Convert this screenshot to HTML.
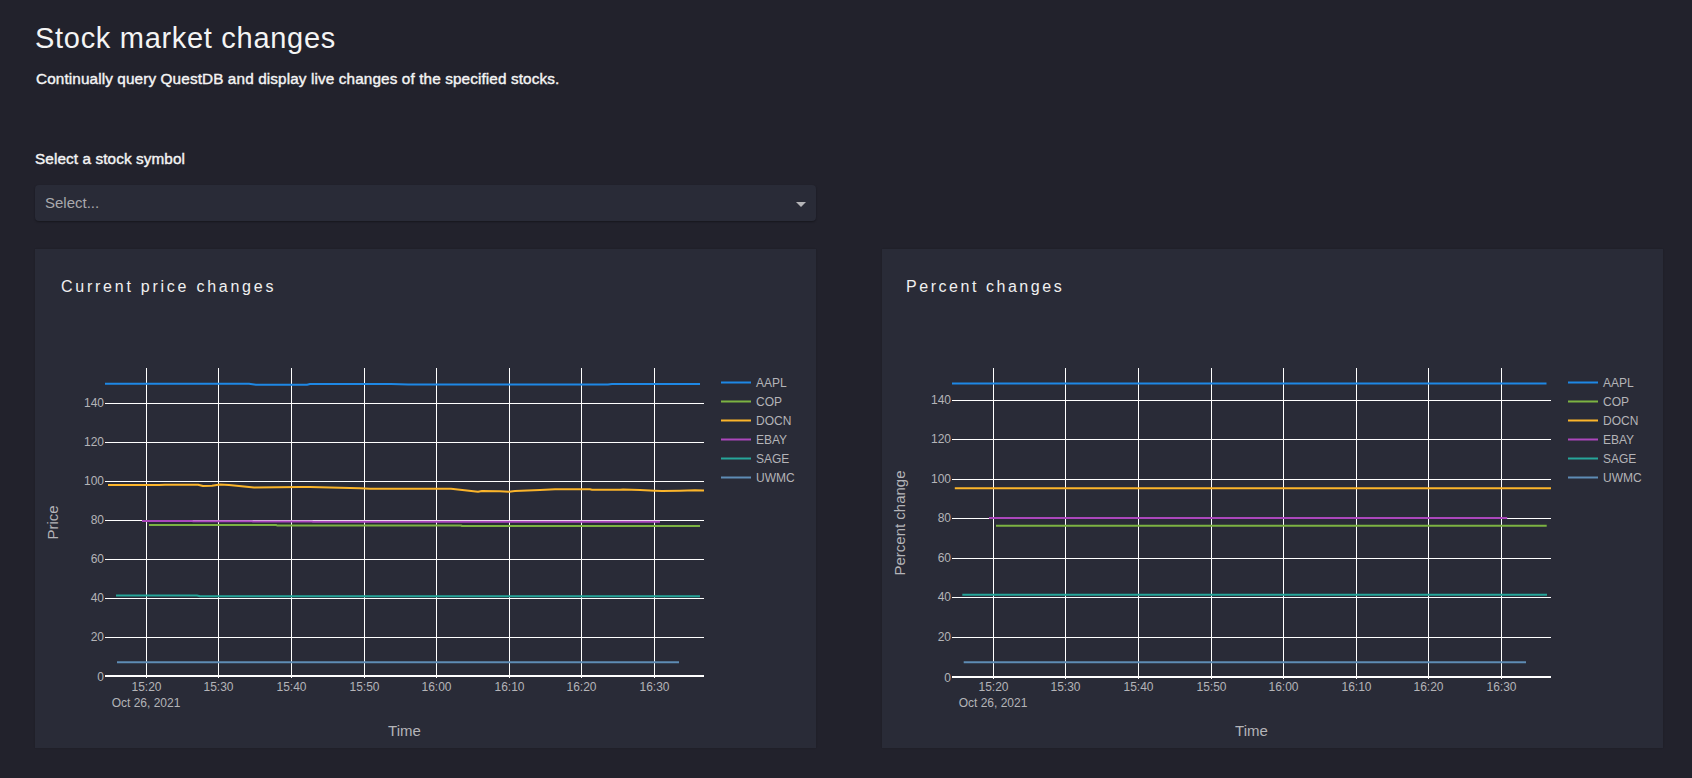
<!DOCTYPE html>
<html>
<head>
<meta charset="utf-8">
<style>
html,body{margin:0;padding:0;}
body{width:1692px;height:778px;overflow:hidden;background:#22222c;font-family:"Liberation Sans",sans-serif;position:relative;}
.abs{position:absolute;white-space:nowrap;}
.title{left:35px;top:22px;font-size:29px;line-height:33px;color:#f4f4f4;letter-spacing:0.7px;}
.sub{left:36px;top:70px;letter-spacing:0.12px;font-size:15.3px;line-height:17px;color:#f4f4f4;-webkit-text-stroke:0.4px #f4f4f4;}
.lbl{left:35px;top:150px;letter-spacing:0.1px;font-size:15.3px;line-height:17px;color:#f4f4f4;-webkit-text-stroke:0.4px #f4f4f4;}
.dd{left:35px;top:185px;width:781px;height:36px;background:#292b37;border-radius:4px;box-shadow:0 1px 2px rgba(0,0,0,0.35);}
.ddtxt{left:45px;top:194px;font-size:15px;line-height:17px;color:#a9a9ad;}
.card{top:249px;width:781px;height:499px;background:#292b37;box-shadow:0 0 1.5px rgba(0,0,0,0.2);}
.ctitle{top:278px;font-size:16px;line-height:18px;color:#f0f0f0;letter-spacing:2.75px;}
svg{position:absolute;left:0;top:0;}
.tk{font-family:"Liberation Sans",sans-serif;font-size:12px;fill:#b4b4b8;}
.lg{font-family:"Liberation Sans",sans-serif;font-size:12px;fill:#b4b4b8;}
.at{font-family:"Liberation Sans",sans-serif;font-size:15px;fill:#b4b4b8;}
</style>
</head>
<body>
<div class="abs title">Stock market changes</div>
<div class="abs sub">Continually query QuestDB and display live changes of the specified stocks.</div>
<div class="abs lbl">Select a stock symbol</div>
<div class="abs dd"></div>
<div class="abs ddtxt">Select...</div>
<div class="abs card" style="left:35px"></div>
<div class="abs card" style="left:882px"></div>
<div class="abs ctitle" style="left:61px">Current price changes</div>
<div class="abs ctitle" style="left:906px;letter-spacing:2.54px">Percent changes</div>
<svg width="1692" height="778" viewBox="0 0 1692 778">
<polygon points="796,202 806,202 801,207" fill="#b5b5b8"/>


<rect x="105" y="403" width="599" height="1" fill="#ffffff"/>
<rect x="105" y="442" width="599" height="1" fill="#ffffff"/>
<rect x="105" y="481" width="599" height="1" fill="#ffffff"/>
<rect x="105" y="520" width="599" height="1" fill="#ffffff"/>
<rect x="105" y="559" width="599" height="1" fill="#ffffff"/>
<rect x="105" y="598" width="599" height="1" fill="#ffffff"/>
<rect x="105" y="637" width="599" height="1" fill="#ffffff"/>
<rect x="146" y="368" width="1" height="310" fill="#ffffff"/>
<rect x="218" y="368" width="1" height="310" fill="#ffffff"/>
<rect x="291" y="368" width="1" height="310" fill="#ffffff"/>
<rect x="364" y="368" width="1" height="310" fill="#ffffff"/>
<rect x="436" y="368" width="1" height="310" fill="#ffffff"/>
<rect x="509" y="368" width="1" height="310" fill="#ffffff"/>
<rect x="581" y="368" width="1" height="310" fill="#ffffff"/>
<rect x="654" y="368" width="1" height="310" fill="#ffffff"/>
<rect x="105" y="675" width="599" height="2" fill="#ffffff"/>
<polyline points="105,383.8 249,383.8 256,384.7 307,384.7 310,384.1 391,384.1 400,384.3 408,384.4 608,384.4 612,384.0 700,384.0" fill="none" stroke="#1e88e5" stroke-width="2" stroke-linejoin="round"/>
<polyline points="108,485.1 159,485.0 165,484.7 198,484.7 203,486.0 212,485.7 220,484.5 229,484.9 254,487.4 300,487.0 310,486.9 340,487.8 360,488.2 370,488.8 451,488.8 478,491.8 482,491.0 500,491.2 509,491.8 515,491.0 540,489.9 555,489.3 590,489.3 592,489.8 620,489.8 623,489.5 640,489.9 655,490.8 662,491.1 680,490.7 695,490.2 704,490.5" fill="none" stroke="#fbb52b" stroke-width="2" stroke-linejoin="round"/>
<polyline points="142,520.9 192,520.9 193,521.2 252,521.2 253,521.5 312,521.5 313,521.8 660,521.8" fill="none" stroke="#ab47bc" stroke-width="2" stroke-linejoin="round"/>
<polyline points="149,524.9 276,524.9 277,525.5 461,525.5 462,526.0 700,526.0" fill="none" stroke="#7cb342" stroke-width="2" stroke-linejoin="round"/>
<polyline points="116,595.5 197,595.5 200,596.2 700,596.2" fill="none" stroke="#26a69a" stroke-width="2" stroke-linejoin="round"/>
<polyline points="117,662.2 679,662.2" fill="none" stroke="#5e8cb5" stroke-width="2" stroke-linejoin="round"/>
<text x="104" y="680.5" text-anchor="end" class="tk">0</text>
<text x="104" y="640.5" text-anchor="end" class="tk">20</text>
<text x="104" y="601.5" text-anchor="end" class="tk">40</text>
<text x="104" y="562.5" text-anchor="end" class="tk">60</text>
<text x="104" y="523.5" text-anchor="end" class="tk">80</text>
<text x="104" y="484.5" text-anchor="end" class="tk">100</text>
<text x="104" y="445.5" text-anchor="end" class="tk">120</text>
<text x="104" y="406.5" text-anchor="end" class="tk">140</text>
<text x="146.5" y="691" text-anchor="middle" class="tk">15:20</text>
<text x="218.5" y="691" text-anchor="middle" class="tk">15:30</text>
<text x="291.5" y="691" text-anchor="middle" class="tk">15:40</text>
<text x="364.5" y="691" text-anchor="middle" class="tk">15:50</text>
<text x="436.5" y="691" text-anchor="middle" class="tk">16:00</text>
<text x="509.5" y="691" text-anchor="middle" class="tk">16:10</text>
<text x="581.5" y="691" text-anchor="middle" class="tk">16:20</text>
<text x="654.5" y="691" text-anchor="middle" class="tk">16:30</text>
<text x="146" y="707" text-anchor="middle" class="tk">Oct 26, 2021</text>
<text x="404.5" y="736" text-anchor="middle" class="at">Time</text>
<text x="57.5" y="522.5" text-anchor="middle" class="at" transform="rotate(-90 57.5 522.5)">Price</text>
<rect x="721" y="381.5" width="30" height="2" fill="#1e88e5"/>
<text x="756" y="387" class="lg">AAPL</text>
<rect x="721" y="400.5" width="30" height="2" fill="#7cb342"/>
<text x="756" y="406" class="lg">COP</text>
<rect x="721" y="419.5" width="30" height="2" fill="#fbb52b"/>
<text x="756" y="425" class="lg">DOCN</text>
<rect x="721" y="438.5" width="30" height="2" fill="#ab47bc"/>
<text x="756" y="444" class="lg">EBAY</text>
<rect x="721" y="457.5" width="30" height="2" fill="#26a69a"/>
<text x="756" y="463" class="lg">SAGE</text>
<rect x="721" y="476.5" width="30" height="2" fill="#5e8cb5"/>
<text x="756" y="482" class="lg">UWMC</text>
<rect x="952" y="400" width="599" height="1" fill="#ffffff"/>
<rect x="952" y="439" width="599" height="1" fill="#ffffff"/>
<rect x="952" y="479" width="599" height="1" fill="#ffffff"/>
<rect x="952" y="518" width="599" height="1" fill="#ffffff"/>
<rect x="952" y="558" width="599" height="1" fill="#ffffff"/>
<rect x="952" y="597" width="599" height="1" fill="#ffffff"/>
<rect x="952" y="637" width="599" height="1" fill="#ffffff"/>
<rect x="993" y="368" width="1" height="311" fill="#ffffff"/>
<rect x="1065" y="368" width="1" height="311" fill="#ffffff"/>
<rect x="1138" y="368" width="1" height="311" fill="#ffffff"/>
<rect x="1211" y="368" width="1" height="311" fill="#ffffff"/>
<rect x="1283" y="368" width="1" height="311" fill="#ffffff"/>
<rect x="1356" y="368" width="1" height="311" fill="#ffffff"/>
<rect x="1428" y="368" width="1" height="311" fill="#ffffff"/>
<rect x="1501" y="368" width="1" height="311" fill="#ffffff"/>
<rect x="952" y="676" width="599" height="2" fill="#ffffff"/>
<polyline points="952,383.5 1546.5,383.5" fill="none" stroke="#1e88e5" stroke-width="2" stroke-linejoin="round"/>
<polyline points="954.8,488.2 1551,488.2" fill="none" stroke="#fbb52b" stroke-width="2" stroke-linejoin="round"/>
<polyline points="989,518 1507.2,518" fill="none" stroke="#ab47bc" stroke-width="2" stroke-linejoin="round"/>
<polyline points="996,525.8 1546.7,525.8" fill="none" stroke="#7cb342" stroke-width="2" stroke-linejoin="round"/>
<polyline points="962.3,594.8 1547,594.8" fill="none" stroke="#26a69a" stroke-width="2" stroke-linejoin="round"/>
<polyline points="963.7,662.3 1526,662.3" fill="none" stroke="#5e8cb5" stroke-width="2" stroke-linejoin="round"/>
<text x="951" y="681.5" text-anchor="end" class="tk">0</text>
<text x="951" y="640.5" text-anchor="end" class="tk">20</text>
<text x="951" y="600.5" text-anchor="end" class="tk">40</text>
<text x="951" y="561.5" text-anchor="end" class="tk">60</text>
<text x="951" y="521.5" text-anchor="end" class="tk">80</text>
<text x="951" y="482.5" text-anchor="end" class="tk">100</text>
<text x="951" y="442.5" text-anchor="end" class="tk">120</text>
<text x="951" y="403.5" text-anchor="end" class="tk">140</text>
<text x="993.5" y="691" text-anchor="middle" class="tk">15:20</text>
<text x="1065.5" y="691" text-anchor="middle" class="tk">15:30</text>
<text x="1138.5" y="691" text-anchor="middle" class="tk">15:40</text>
<text x="1211.5" y="691" text-anchor="middle" class="tk">15:50</text>
<text x="1283.5" y="691" text-anchor="middle" class="tk">16:00</text>
<text x="1356.5" y="691" text-anchor="middle" class="tk">16:10</text>
<text x="1428.5" y="691" text-anchor="middle" class="tk">16:20</text>
<text x="1501.5" y="691" text-anchor="middle" class="tk">16:30</text>
<text x="993" y="707" text-anchor="middle" class="tk">Oct 26, 2021</text>
<text x="1251.5" y="736" text-anchor="middle" class="at">Time</text>
<text x="904.5" y="523" text-anchor="middle" class="at" transform="rotate(-90 904.5 523)">Percent change</text>
<rect x="1568" y="381.5" width="30" height="2" fill="#1e88e5"/>
<text x="1603" y="387" class="lg">AAPL</text>
<rect x="1568" y="400.5" width="30" height="2" fill="#7cb342"/>
<text x="1603" y="406" class="lg">COP</text>
<rect x="1568" y="419.5" width="30" height="2" fill="#fbb52b"/>
<text x="1603" y="425" class="lg">DOCN</text>
<rect x="1568" y="438.5" width="30" height="2" fill="#ab47bc"/>
<text x="1603" y="444" class="lg">EBAY</text>
<rect x="1568" y="457.5" width="30" height="2" fill="#26a69a"/>
<text x="1603" y="463" class="lg">SAGE</text>
<rect x="1568" y="476.5" width="30" height="2" fill="#5e8cb5"/>
<text x="1603" y="482" class="lg">UWMC</text>
</svg>
</body>
</html>
